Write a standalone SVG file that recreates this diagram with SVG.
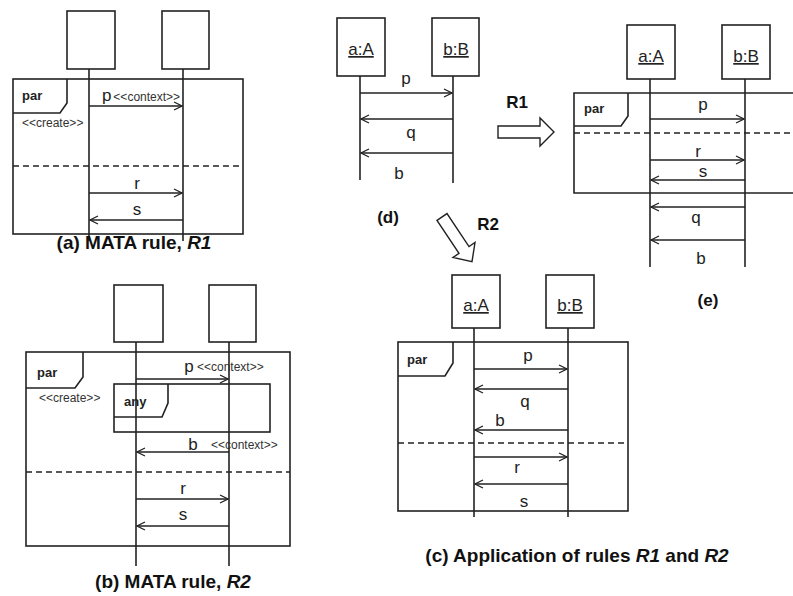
<svg xmlns="http://www.w3.org/2000/svg" width="793" height="596" viewBox="0 0 793 596">
<defs>
<marker id="ah" markerWidth="10" markerHeight="10" refX="9" refY="5" orient="auto" markerUnits="userSpaceOnUse">
<path d="M1,1 L9,5 L1,9" fill="none" stroke="#222" stroke-width="1.3"/>
</marker>
<style>
.box{fill:#fff;stroke:#222;stroke-width:1.6}
.life{stroke:#222;stroke-width:1.6;fill:none}
.frame{fill:none;stroke:#222;stroke-width:1.6}
.msg{stroke:#222;stroke-width:1.3;fill:none;marker-end:url(#ah)}
.dash{stroke:#222;stroke-width:1.3;stroke-dasharray:6,4;fill:none}
.lbl{font-family:"Liberation Sans",Arial,sans-serif;font-size:17px;fill:#222;text-anchor:middle}
.st{font-family:"Liberation Sans",Arial,sans-serif;font-size:12px;fill:#333}
.op{font-family:"Liberation Sans",Arial,sans-serif;font-size:13px;font-weight:bold;fill:#222}
.nm{font-family:"Liberation Sans",Arial,sans-serif;font-size:17px;fill:#222;text-anchor:middle;text-decoration:underline}
.cap{font-family:"Liberation Sans",Arial,sans-serif;font-size:19px;font-weight:bold;fill:#111;text-anchor:middle}
.sub{font-family:"Liberation Sans",Arial,sans-serif;font-size:17px;font-weight:bold;fill:#111;text-anchor:middle}
.big{fill:#fff;stroke:#222;stroke-width:1.4}
</style>
</defs>

<!-- Panel (a) -->
<g id="panel-a">
<g id="a-frame">
<rect class="frame" x="13" y="79" width="230" height="155"/>
<path class="frame" d="M67,79 V103 L60,113 H13"/>
<text class="op" x="22" y="100">par</text>
<line class="dash" x1="13" y1="166" x2="243" y2="166"/>
</g>
<g id="a-obj1"><rect class="box" x="67" y="11" width="48" height="58"/><line class="life" x1="89" y1="69" x2="89" y2="241"/></g>
<g id="a-obj2"><rect class="box" x="162" y="11" width="47" height="58"/><line class="life" x1="183" y1="69" x2="183" y2="241"/></g>
<text class="st" x="22" y="127">&lt;&lt;create&gt;&gt;</text>
<text class="cap" x="134" y="249">(a) MATA rule, <tspan font-style="italic">R1</tspan></text>
</g>

<!-- Panel (b) -->
<g id="panel-b">
<g id="b-frame">
<rect class="frame" x="26" y="352" width="264" height="194"/>
<path class="frame" d="M83,352 V377 L75,388 H26"/>
<text class="op" x="37" y="377">par</text>
<line class="dash" x1="26" y1="472" x2="290" y2="472"/>
</g>
<g id="b-any">
<rect class="frame" x="114" y="384" width="156" height="48"/>
<path class="frame" d="M168,384 V403 L162,417 H114"/>
<text class="op" x="124" y="406">any</text>
</g>
<g id="b-obj1"><rect class="box" x="114" y="285" width="49" height="57"/><line class="life" x1="136" y1="342" x2="136" y2="566"/></g>
<g id="b-obj2"><rect class="box" x="209" y="285" width="47" height="57"/><line class="life" x1="229" y1="342" x2="229" y2="566"/></g>
<text class="st" x="39" y="402">&lt;&lt;create&gt;&gt;</text>
<text class="cap" x="173" y="588">(b) MATA rule, <tspan font-style="italic">R2</tspan></text>
</g>

<!-- Panel (d) -->
<g id="panel-d">
<g id="d-a"><rect class="box" x="337" y="18" width="48" height="58"/><text class="nm" x="361" y="55">a:A</text><line class="life" x1="360" y1="76" x2="360" y2="180"/></g>
<g id="d-b"><rect class="box" x="432" y="18" width="47" height="58"/><text class="nm" x="456" y="55">b:B</text><line class="life" x1="453" y1="76" x2="453" y2="183"/></g>
<text class="sub" x="388" y="223">(d)</text>
</g>

<!-- Panel (e) -->
<g id="panel-e">
<g id="e-frame">
<path class="frame" d="M800,93 H574 V193 H800"/>
<path class="frame" d="M628,93 V116 L621,126 H574"/>
<text class="op" x="584" y="113">par</text>
<line class="dash" x1="574" y1="133" x2="793" y2="133"/>
</g>
<g id="e-a"><rect class="box" x="627" y="25" width="48" height="54"/><text class="nm" x="651" y="62">a:A</text><line class="life" x1="650" y1="79" x2="650" y2="267"/></g>
<g id="e-b"><rect class="box" x="722" y="25" width="48" height="54"/><text class="nm" x="746" y="62">b:B</text><line class="life" x1="745" y1="79" x2="745" y2="267"/></g>
<text class="sub" x="708" y="306">(e)</text>
</g>

<!-- Panel (c) -->
<g id="panel-c">
<g id="c-frame">
<rect class="frame" x="398" y="342" width="230" height="169"/>
<path class="frame" d="M453,342 V363 L445,376 H398"/>
<text class="op" x="407" y="364">par</text>
<line class="dash" x1="398" y1="443" x2="628" y2="443"/>
</g>
<g id="c-a"><rect class="box" x="452" y="275" width="48" height="53"/><text class="nm" x="476" y="311">a:A</text><line class="life" x1="474" y1="328" x2="474" y2="517"/></g>
<g id="c-b"><rect class="box" x="546" y="275" width="48" height="53"/><text class="nm" x="570" y="311">b:B</text><line class="life" x1="568" y1="328" x2="568" y2="517"/></g>
<text class="cap" x="577" y="562">(c) Application of rules <tspan font-style="italic">R1</tspan> and <tspan font-style="italic">R2</tspan></text>
</g>

<!-- Transformation arrows -->
<g id="R1-arrow">
<path class="big" d="M498,126 H540 V118 L554,132 L540,146 V138 H498 Z"/>
<text class="sub" x="517" y="108">R1</text>
</g>
<g id="R2-arrow">
<path class="big" d="M437,220.4 L447,213.6 L469,246.6 L475,242.5 L472,261.6 L453,257.5 L459,253.4 Z"/>
<text class="sub" x="488" y="230">R2</text>
</g>

<!-- Connectors (messages) -->
<g id="connectors">
<!-- (a) -->
<line class="msg" x1="89" y1="106" x2="182" y2="106"/>
<text class="lbl" x="141" y="101">p<tspan class="st" dx="2">&lt;&lt;context&gt;&gt;</tspan></text>
<line class="msg" x1="89" y1="193" x2="182" y2="193"/>
<text class="lbl" x="137" y="189">r</text>
<line class="msg" x1="183" y1="220" x2="90" y2="220"/>
<text class="lbl" x="137" y="215">s</text>
<!-- (b) -->
<line class="msg" x1="136" y1="379" x2="228" y2="379"/>
<text class="lbl" x="189" y="372">p</text>
<text class="st" x="197" y="371">&lt;&lt;context&gt;&gt;</text>
<line class="msg" x1="229" y1="452" x2="137" y2="452"/>
<text class="lbl" x="193" y="450">b</text>
<text class="st" x="211" y="449">&lt;&lt;context&gt;&gt;</text>
<line class="msg" x1="136" y1="499" x2="228" y2="499"/>
<text class="lbl" x="183" y="494">r</text>
<line class="msg" x1="229" y1="526" x2="137" y2="526"/>
<text class="lbl" x="183" y="520">s</text>
<!-- (d) -->
<line class="msg" x1="360" y1="93" x2="452" y2="93"/>
<text class="lbl" x="406" y="84">p</text>
<line class="msg" x1="453" y1="119" x2="361" y2="119"/>
<text class="lbl" x="411" y="138">q</text>
<line class="msg" x1="453" y1="153" x2="361" y2="153"/>
<text class="lbl" x="399" y="179">b</text>
<!-- (e) -->
<line class="msg" x1="650" y1="119" x2="744" y2="119"/>
<text class="lbl" x="703" y="110">p</text>
<line class="msg" x1="650" y1="160" x2="744" y2="160"/>
<text class="lbl" x="698" y="157">r</text>
<line class="msg" x1="745" y1="180" x2="651" y2="180"/>
<text class="lbl" x="703" y="177">s</text>
<line class="msg" x1="745" y1="207" x2="651" y2="207"/>
<text class="lbl" x="696" y="223">q</text>
<line class="msg" x1="745" y1="240" x2="651" y2="240"/>
<text class="lbl" x="701" y="264">b</text>
<!-- (c) -->
<line class="msg" x1="474" y1="369" x2="567" y2="369"/>
<text class="lbl" x="528" y="361">p</text>
<line class="msg" x1="568" y1="389" x2="475" y2="389"/>
<text class="lbl" x="525" y="407">q</text>
<line class="msg" x1="568" y1="430" x2="475" y2="430"/>
<text class="lbl" x="500" y="426">b</text>
<line class="msg" x1="474" y1="457" x2="567" y2="457"/>
<text class="lbl" x="517" y="473">r</text>
<line class="msg" x1="568" y1="484" x2="475" y2="484"/>
<text class="lbl" x="524" y="507">s</text>
</g>
</svg>
